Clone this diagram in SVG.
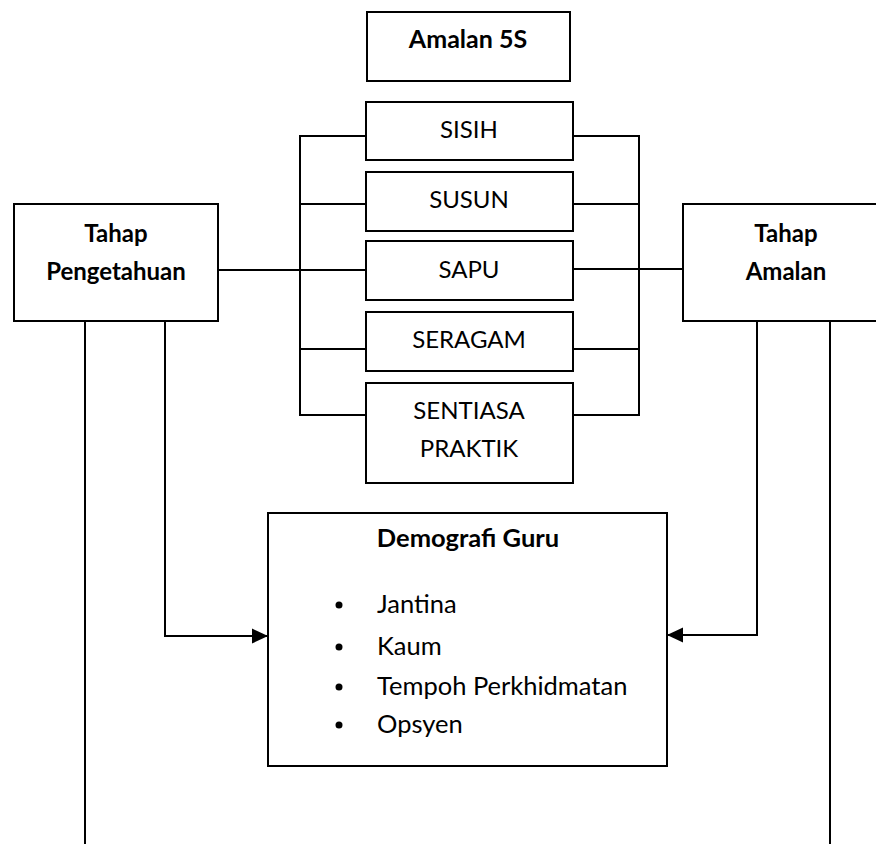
<svg xmlns="http://www.w3.org/2000/svg" width="876" height="844" viewBox="0 0 876 844">
<defs>
<style>
.box{fill:#fff;stroke:#000;stroke-width:2}
.ln{fill:none;stroke:#000;stroke-width:2}
text{font-family:Lato,"Open Sans","Liberation Sans",sans-serif;font-size:24px;fill:#000}
.b{font-weight:bold}
.c{text-anchor:middle}
.t{font-size:25px}
.li{font-size:25.5px}
</style>
<marker id="ah" viewBox="0 0 16 16" refX="16" refY="8" markerWidth="16" markerHeight="16" markerUnits="userSpaceOnUse" orient="auto">
<path d="M0,0.5 L16,8 L0,15.5 Z" fill="#000"/>
</marker>
</defs>
<rect width="876" height="844" fill="#fff"/>
<g id="connectors">
<path class="ln" d="M366,136 H300 V415 H366"/>
<path class="ln" d="M300,204 H366"/>
<path class="ln" d="M300,349 H366"/>
<path class="ln" d="M573,136 H639 V415 H573"/>
<path class="ln" d="M573,204 H639"/>
<path class="ln" d="M573,349 H639"/>
<path class="ln" d="M218,270 H366"/>
<path class="ln" d="M573,269 H683"/>
<path class="ln" d="M165,321 V636 H268" marker-end="url(#ah)"/>
<path class="ln" d="M757,321 V635 H667" marker-end="url(#ah)"/>
<path class="ln" d="M85,321 V844"/>
<path class="ln" d="M830,321 V844"/>
</g>
<g id="amalan5s">
<rect class="box" x="367" y="12" width="203" height="69"/>
<text class="b c t" x="468" y="48">Amalan 5S</text>
</g>
<g id="sisih">
<rect class="box" x="366" y="102" width="207" height="58"/>
<text class="c" x="469" y="138">SISIH</text>
</g>
<g id="susun">
<rect class="box" x="366" y="172" width="207" height="59"/>
<text class="c" x="469" y="208">SUSUN</text>
</g>
<g id="sapu">
<rect class="box" x="366" y="241" width="207" height="59"/>
<text class="c" x="469" y="278">SAPU</text>
</g>
<g id="seragam">
<rect class="box" x="366" y="312" width="207" height="59"/>
<text class="c" x="469" y="348">SERAGAM</text>
</g>
<g id="sentiasa">
<rect class="box" x="366" y="383" width="207" height="100"/>
<text class="c" x="469" y="419">SENTIASA</text>
<text class="c" x="469" y="457">PRAKTIK</text>
</g>
<g id="tahap-pengetahuan">
<rect class="box" x="14" y="204" width="204" height="117"/>
<text class="b c" x="116" y="242">Tahap</text>
<text class="b c" x="116" y="280">Pengetahuan</text>
</g>
<g id="tahap-amalan">
<rect class="box" x="683" y="204" width="206" height="117"/>
<text class="b c" x="786" y="242">Tahap</text>
<text class="b c" x="786" y="280">Amalan</text>
</g>
<g id="demografi">
<rect class="box" x="268" y="513" width="399" height="253"/>
<text class="b c li" x="468" y="547">Demografi Guru</text>
<circle cx="339" cy="605" r="3.5"/>
<circle cx="339" cy="647" r="3.5"/>
<circle cx="339" cy="687" r="3.5"/>
<circle cx="339" cy="725" r="3.5"/>
<text class="li" x="377" y="613">Jantina</text>
<text class="li" x="377" y="655">Kaum</text>
<text class="li" x="377" y="695">Tempoh Perkhidmatan</text>
<text class="li" x="377" y="733">Opsyen</text>
</g>
</svg>
